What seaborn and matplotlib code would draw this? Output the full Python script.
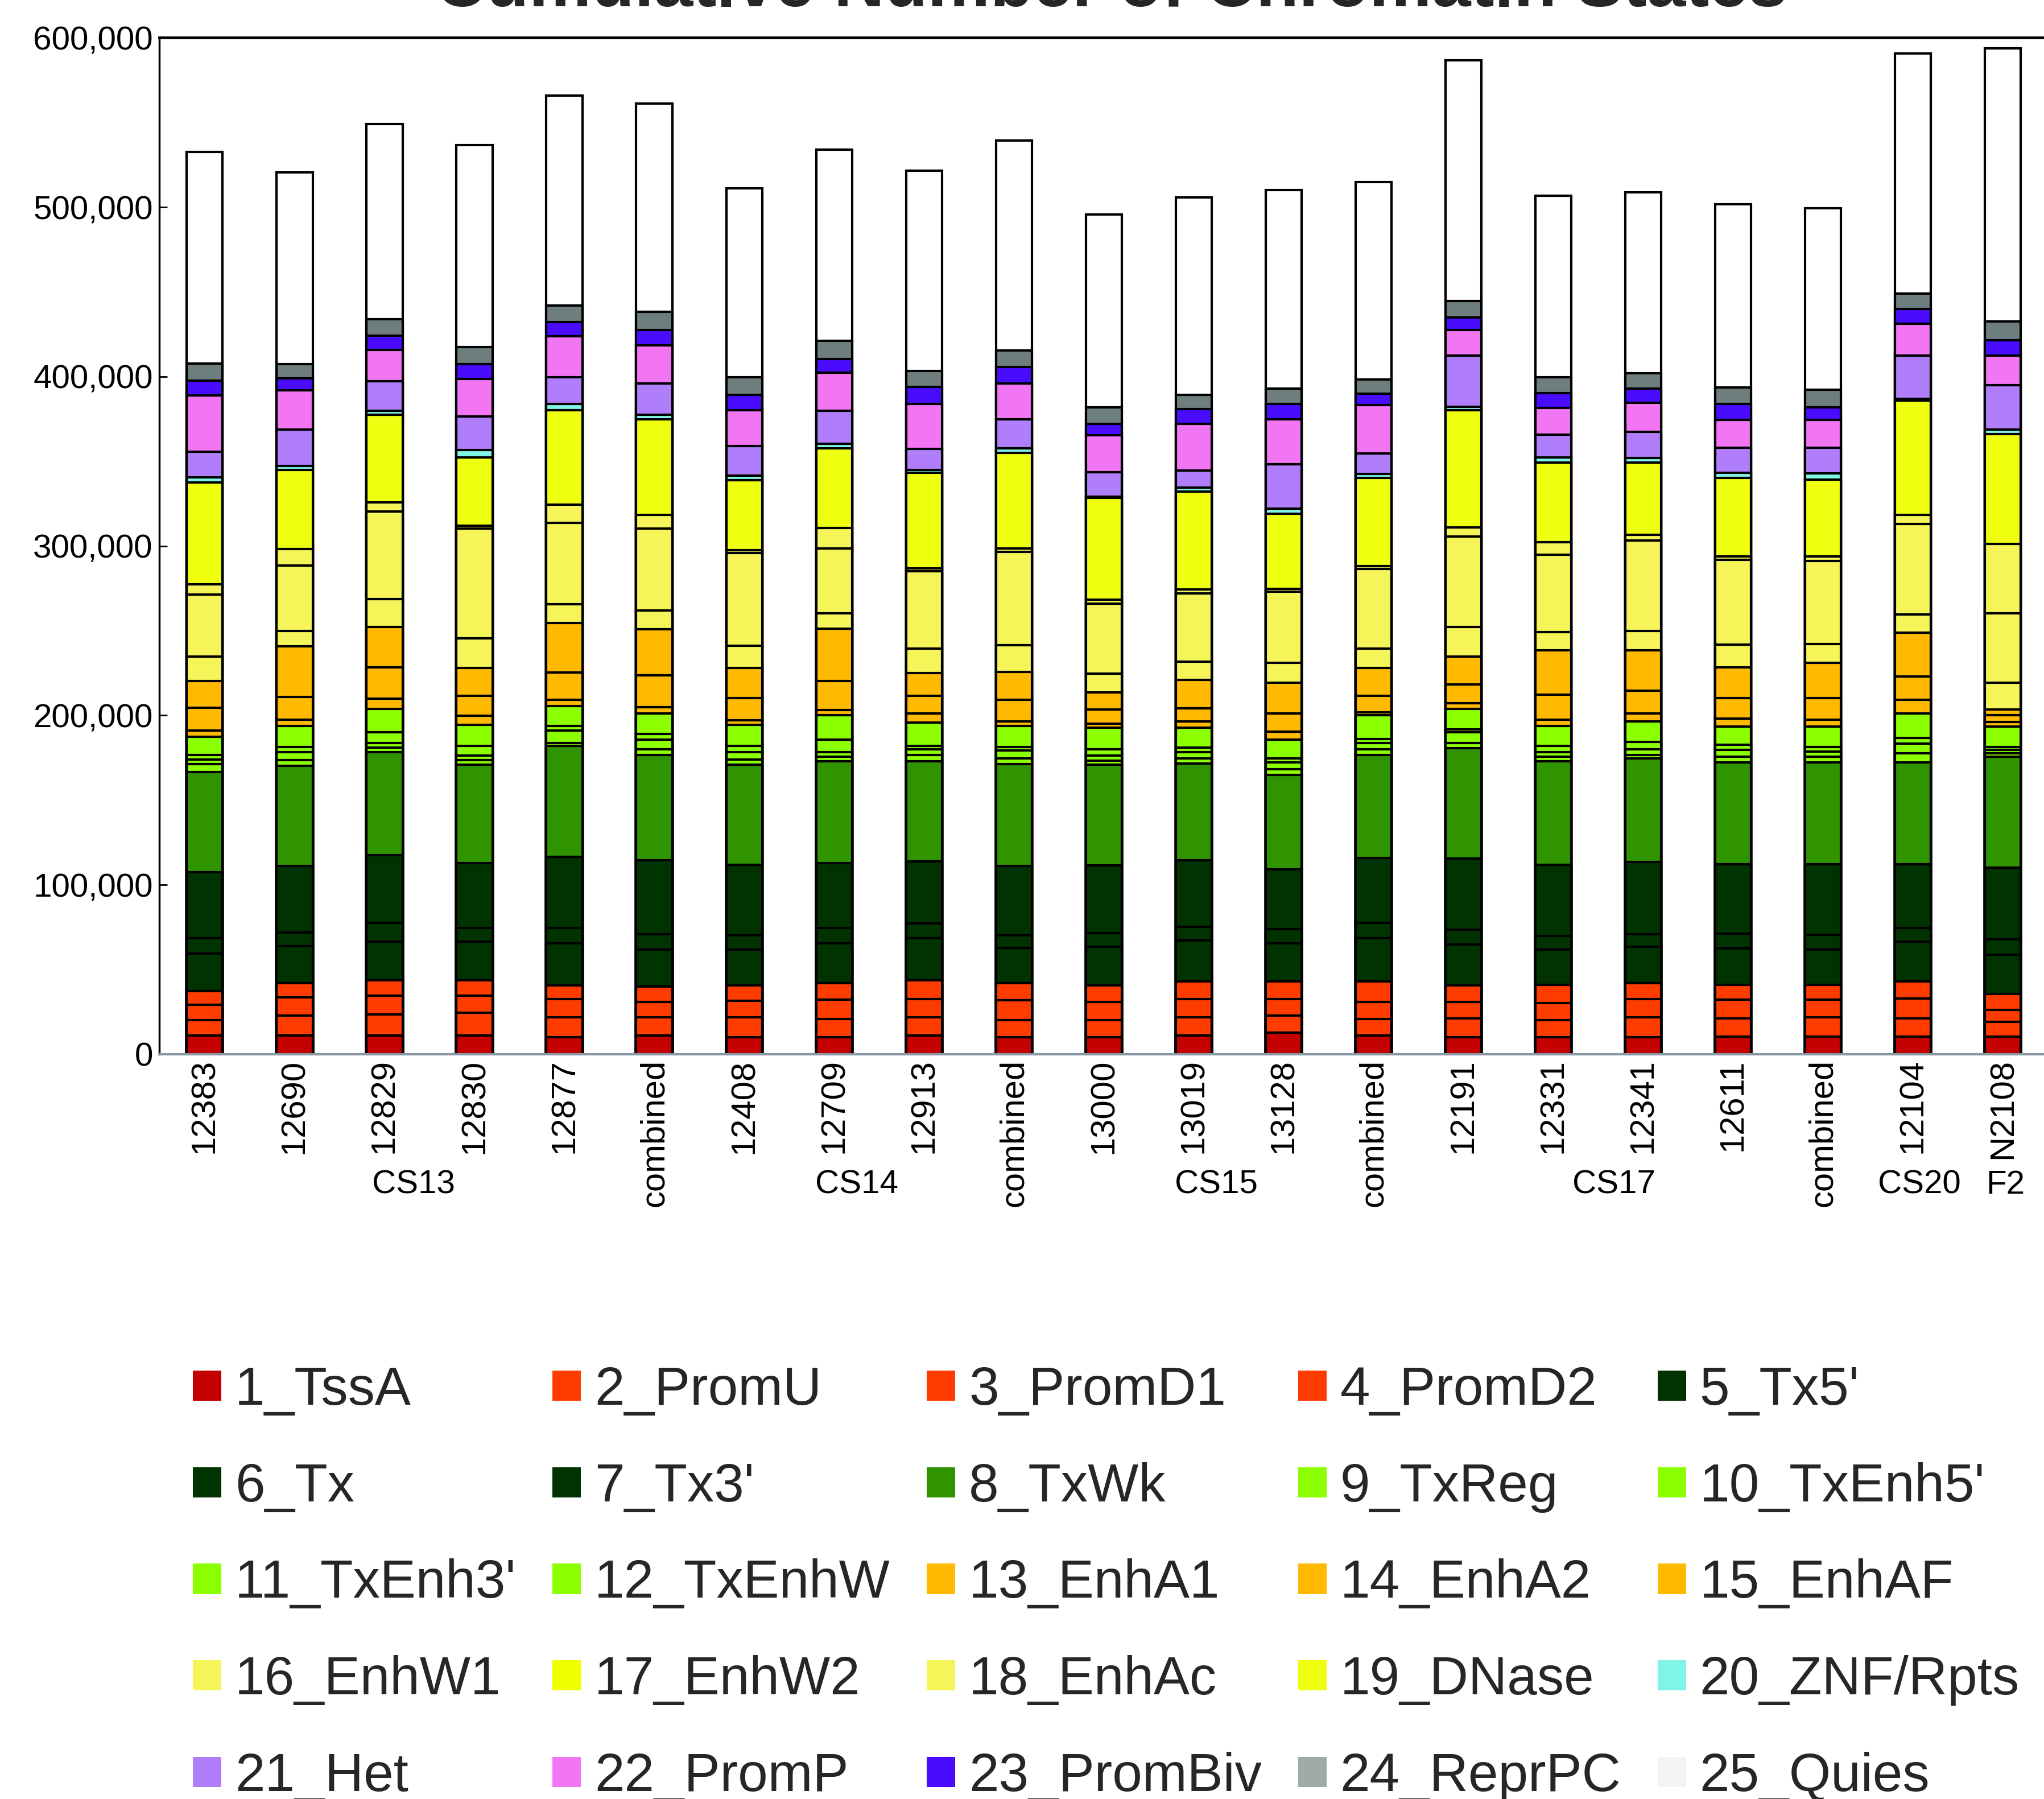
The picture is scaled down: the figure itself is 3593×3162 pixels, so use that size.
import matplotlib
matplotlib.use("Agg")
import matplotlib.pyplot as plt
import matplotlib.transforms as mtransforms
from matplotlib.patches import Patch
from matplotlib.ticker import FuncFormatter
import seaborn as sns
import numpy as np

# samples along the x axis and the stage each group belongs to
samples = ["12383", "12690", "12829", "12830", "12877", "combined",
           "12408", "12709", "12913", "combined",
           "13000", "13019", "13128", "combined",
           "12191", "12331", "12341", "12611", "combined",
           "12104", "N2108"]
stages = ["CS13", "CS14", "CS15", "CS17", "CS20", "F2"]

states = ["1_TssA", "2_PromU", "3_PromD1", "4_PromD2", "5_Tx5'",
          "6_Tx", "7_Tx3'", "8_TxWk", "9_TxReg", "10_TxEnh5'",
          "11_TxEnh3'", "12_TxEnhW", "13_EnhA1", "14_EnhA2", "15_EnhAF",
          "16_EnhW1", "17_EnhW2", "18_EnhAc", "19_DNase", "20_ZNF/Rpts",
          "21_Het", "22_PromP", "23_PromBiv", "24_ReprPC", "25_Quies"]

# number of regions per state, one value per sample
s01 = [10900, 10900, 10900, 10900, 10200, 10900, 10200, 10200, 10900, 10200, 10200, 10900, 12700, 10900, 10200, 10200, 10200, 10300, 10300, 10300, 10300]
s02 = [9100, 12000, 12700, 13500, 11600, 10900, 11600, 10600, 10900, 9800, 9800, 10900, 10200, 9800, 10900, 9800, 11600, 10700, 11500, 10700, 8700]
s03 = [9100, 10600, 10900, 10200, 10900, 9100, 9800, 11300, 10900, 12000, 10900, 10900, 9800, 10200, 9800, 10200, 10900, 11100, 10300, 11900, 7100]
s04 = [8000, 8400, 9100, 9100, 8000, 9100, 9100, 9800, 10900, 9800, 9800, 10200, 10200, 12000, 9800, 10600, 9100, 8700, 8700, 9900, 9500]
s05 = [22200, 21800, 22900, 22900, 24800, 21800, 21100, 23700, 24800, 21100, 22900, 24400, 22600, 25500, 24000, 21100, 21800, 21800, 21000, 23800, 23000]
s06 = [9100, 8000, 10900, 8000, 9100, 9100, 8400, 9100, 8700, 7300, 8000, 8000, 8400, 9100, 8700, 8000, 7300, 8700, 8700, 7900, 9100]
s07 = [39000, 39300, 40000, 38200, 41900, 43700, 41500, 38200, 36800, 40800, 40000, 39300, 35300, 38200, 42200, 41900, 42600, 40800, 41600, 37600, 42400]
s08 = [59000, 59300, 60800, 58200, 65500, 61900, 59300, 60100, 59000, 60100, 59300, 57100, 55700, 60800, 65200, 61200, 61200, 60200, 60200, 60200, 65400]
s09 = [4700, 3300, 2900, 2500, 1800, 3600, 2900, 2500, 3600, 3600, 2500, 2900, 3300, 3600, 2900, 2500, 1800, 3200, 3200, 5200, 2000]
s10 = [2900, 4700, 2500, 2900, 7300, 5500, 4400, 2900, 3600, 4700, 2900, 3600, 4000, 3600, 6200, 2900, 3600, 4000, 3200, 5900, 2000]
s11 = [2500, 2900, 6600, 5500, 2500, 3600, 3600, 7300, 1800, 1800, 3600, 2900, 2500, 2500, 1800, 3600, 4400, 3200, 2800, 3200, 2000]
s12 = [10900, 12700, 13500, 12700, 12000, 12000, 12700, 14600, 13800, 12400, 12700, 11600, 10900, 13800, 12000, 11600, 12000, 10700, 11900, 14700, 11900]
s13 = [3600, 3600, 6200, 5100, 3600, 3600, 2500, 2900, 5500, 2900, 2500, 3600, 4700, 1800, 3600, 4000, 4700, 4800, 4000, 7900, 2800]
s14 = [13500, 13500, 18600, 12000, 16000, 18900, 13100, 17100, 10200, 12700, 8400, 8000, 10900, 9800, 10900, 14600, 13500, 11900, 12700, 13900, 4000]
s15 = [15700, 29800, 23700, 16400, 29500, 27300, 17800, 30900, 13500, 16400, 10200, 16700, 18200, 16400, 16400, 26200, 23700, 18200, 21000, 25800, 3200]
s16 = [14600, 9100, 16400, 17500, 10900, 10900, 13100, 9100, 14600, 15700, 10900, 10600, 11600, 11300, 17500, 10900, 11600, 13500, 11100, 10700, 15900]
s17 = [36400, 38600, 51700, 64800, 48000, 48400, 54600, 38200, 45500, 55300, 41500, 40400, 41900, 47000, 53500, 45500, 53100, 49900, 49100, 53500, 40800]
s18 = [6200, 9800, 5500, 1500, 10900, 8000, 1800, 12000, 1800, 1800, 2200, 2500, 1800, 1800, 5500, 7300, 3600, 2000, 2400, 5200, 41200]
s19 = [60100, 46600, 51700, 40400, 55700, 56400, 41500, 47000, 56400, 56400, 60100, 57500, 44400, 52100, 69200, 47300, 42600, 46400, 45600, 67400, 64600]
s20 = [2900, 2500, 2200, 4400, 3600, 2900, 2500, 2900, 1800, 2900, 700, 2500, 2900, 2500, 1800, 2900, 2500, 3200, 3600, 1200, 2800]
s21 = [15300, 21500, 17500, 19700, 15700, 18200, 17500, 19300, 12400, 17100, 14600, 10200, 26200, 12000, 30200, 13500, 15700, 14700, 15100, 25400, 26200]
s22 = [33100, 22900, 18600, 22200, 24400, 22600, 21100, 22600, 26600, 21100, 21800, 27300, 26600, 28400, 15300, 15700, 17100, 16600, 16600, 19000, 17400]
s23 = [8700, 7300, 8400, 8700, 8400, 9100, 9100, 8000, 9800, 9800, 6600, 8700, 9100, 6900, 7300, 8700, 8400, 9100, 7100, 8700, 9100]
s24 = [10200, 8400, 9800, 10200, 9800, 10900, 10600, 10900, 9500, 9800, 9800, 8400, 9100, 8400, 9800, 9500, 9100, 9900, 10700, 9100, 11100]
s25 = [124900, 113200, 115000, 119000, 123700, 122900, 111400, 112800, 118300, 123800, 113900, 116500, 117200, 116500, 142100, 107000, 106700, 108200, 107000, 141500, 161300]

counts = [s01, s02, s03, s04, s05, s06, s07, s08, s09, s10, s11, s12, s13,
          s14, s15, s16, s17, s18, s19, s20, s21, s22, s23, s24, s25]

bar_colors = ["#C40000", "#FF3C00", "#FF3C00", "#FF3C00", "#003300",
              "#003300", "#003300", "#309400", "#8CFF00", "#8CFF00",
              "#8CFF00", "#8CFF00", "#FFBA00", "#FFBA00", "#FFBA00",
              "#F5F55A", "#F5F55A", "#F5F55A", "#EEFF10", "#80F5E6",
              "#B07EFA", "#F276F4", "#4A0CFF", "#6E7E7E", "#FFFFFF"]
legend_colors = bar_colors[:16] + ["#EEFF00"] + bar_colors[17:23] + ["#A0AAA8", "#F4F4F6"]

sns.set_theme(style="white")
plt.rcParams["font.family"] = ["Liberation Sans", "DejaVu Sans"]

fig = plt.figure(figsize=(35.93, 31.62), dpi=100)
ax = fig.add_axes([0.0779, 0.414, 0.946, 0.565])

x = np.arange(len(samples))
cum = np.cumsum(np.array(counts), axis=0)
# draw the tallest cumulative layer first so each lower one sits on top
for i in range(len(states) - 1, -1, -1):
    sns.barplot(x=x, y=cum[i], color=bar_colors[i], width=0.4, saturation=1,
                edgecolor="black", linewidth=3.0, errorbar=None, ax=ax)

ax.set_xlim(-0.506, 21.0)
ax.set_ylim(0, 600000)
ax.set_yticks(np.arange(0, 600001, 100000))
ax.yaxis.set_major_formatter(FuncFormatter(lambda v, p: f"{int(v):,}"))
ax.set_xticks(x)
ax.set_xticklabels(samples, rotation=90, fontsize=43)
ax.set_xlabel("")
ax.set_ylabel("")
ax.tick_params(axis="x", length=0, pad=6, colors="black")
ax.tick_params(axis="y", direction="in", length=10, width=2, pad=8,
               labelsize=42, colors="black", left=True)

for side in ["left", "top"]:
    ax.spines[side].set_color("black")
    ax.spines[side].set_linewidth(2.5)
ax.spines["top"].set_linewidth(3.5)
ax.spines["right"].set_visible(False)
ax.spines["bottom"].set_color("#8A98A6")
ax.spines["bottom"].set_linewidth(3)

trans = mtransforms.blended_transform_factory(ax.transData, ax.transAxes)
for name, pos in zip(stages, [2.32, 7.25, 11.25, 15.67, 19.07, 20.03]):
    ax.text(pos, -0.1285, name, transform=trans, ha="center", va="center",
            fontsize=42, color="black")

fig.text(0.5436, 0.9965, "Cumulative Number of Chromatin States",
         ha="center", va="baseline", fontsize=89, fontweight="bold")

handles = [Patch(facecolor=legend_colors[i], edgecolor="none", label=states[i])
           for i in range(len(states))]
# legend fills by column, reorder so it reads row by row
ordered = [handles[r * 5 + c] for c in range(5) for r in range(5)]
fig.legend(handles=ordered, ncol=5, loc="upper left",
           bbox_to_anchor=(0.0944, 0.241), frameon=False, fontsize=68,
           handlelength=0.53, handleheight=0.49, handletextpad=0.25,
           columnspacing=0.68, labelspacing=0.855, borderpad=0, borderaxespad=0)

fig.savefig("out.png", dpi=100, facecolor="white")
